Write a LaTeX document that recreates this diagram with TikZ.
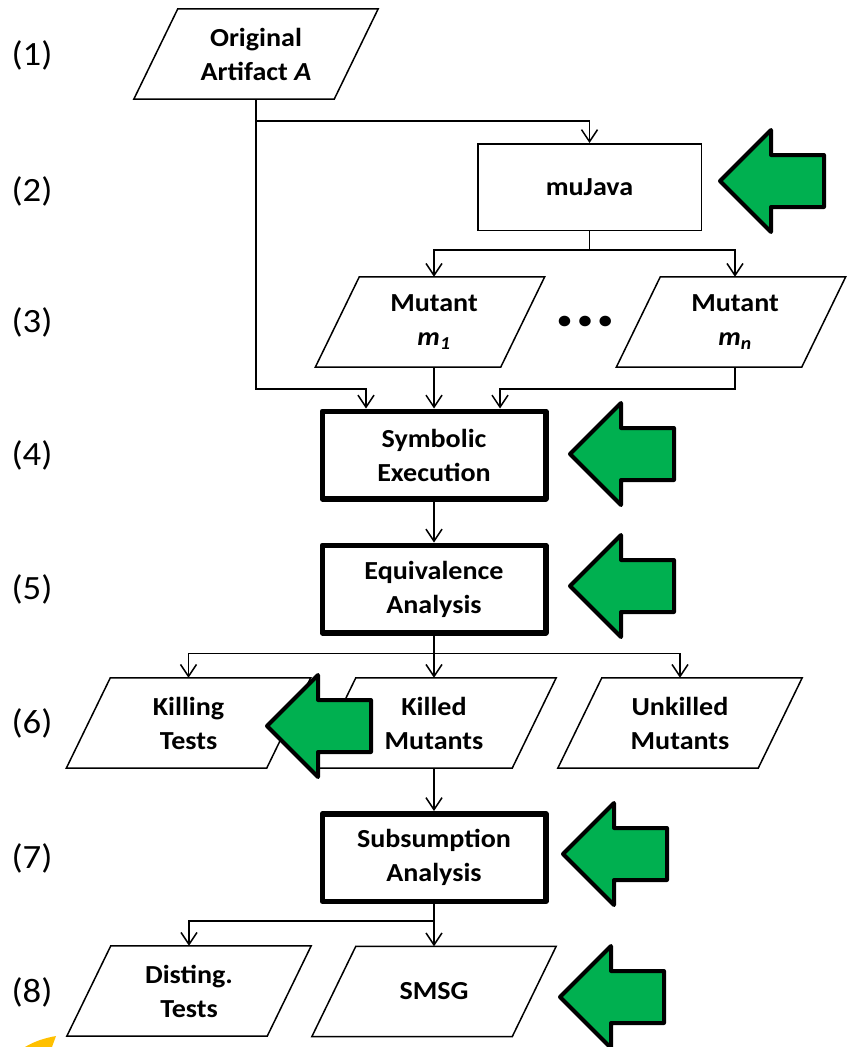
\documentclass[tikz,border=0pt]{standalone}
\usepackage{fontspec}
\setmainfont{Carlito}[FakeStretch=1.08]
\usetikzlibrary{arrows.meta,calc}
\definecolor{arrowgreen}{RGB}{0,176,80}
\definecolor{markyellow}{RGB}{255,192,0}

% left-pointing block arrow: tip at (#1,#2)
\newcommand\greenarrow[2]{%
  \draw[bigarrow] (#1,#2) -- ++(51,-51) -- ++(0,25) -- ++(53,0) -- ++(0,52)
    -- ++(-53,0) -- ++(0,25) -- cycle;}

\begin{document}
\begin{tikzpicture}[x=1pt,y=-1pt,
  txt/.style={font=\fontsize{26}{34}\selectfont\bfseries, align=center, inner sep=0pt},
  para/.style={txt, minimum width=200pt, minimum height=90pt},
  outline/.style={draw, line width=1.5pt, line join=miter, fill=white},
  plainbox/.style={txt, draw, line width=1.5pt, minimum width=223.5pt, minimum height=86.5pt},
  thickbox/.style={txt, draw, line width=5.5pt, line join=round, minimum width=223.5pt, minimum height=87.5pt},
  conn/.style={line width=1.5pt, -{Straight Barb[length=12pt,width=16pt,line width=1.5pt]}},
  rowlabel/.style={font=\fontsize{34}{40}\selectfont, inner sep=0pt},
  bigarrow/.style={fill=arrowgreen, draw=black, line width=4pt, line join=round},
]
\useasboundingbox (0,0) rectangle (850,1047);

% step numbers
\node[rowlabel] (l1) at (32,55.5) {(1)};
\node[rowlabel] (l2) at (32,191) {(2)};
\node[rowlabel] (l3) at (32,322.5) {(3)};
\node[rowlabel] (l4) at (32,455) {(4)};
\node[rowlabel] (l5) at (32,589) {(5)};
\node[rowlabel] (l6) at (32,723.5) {(6)};
\node[rowlabel] (l7) at (32,858.5) {(7)};
\node[rowlabel] (l8) at (32,992.5) {(8)};

% data (parallelogram) nodes: the shape is drawn below around each node
\node[para] (orig) at (256,54) {};
\node[para, minimum width=185pt] (m1) at (430,322) {};
\node[para, minimum width=185pt] (mn) at (731,322) {};
\node[para] (killing) at (188.5,723) {};
\node[para] (killed) at (434,723) {};
\node[para] (unkilled) at (680,723) {};
\node[para] (dist) at (189,991) {};
\node[para] (smsg) at (434,991.5) {};

\foreach \n in {orig,m1,mn,killing,killed,unkilled,dist,smsg}
  \draw[outline] ($(\n.south west)+(-22,0)$) -- ($(\n.north west)+(22,0)$)
    -- ($(\n.north east)+(22,0)$) -- ($(\n.south east)+(-22,0)$) -- cycle;

\node[txt] at (orig) {Original\\Artifact \textit{A}};
\node[txt] at (434,322) {Mutant\\\textit{m}\textsubscript{\textit{1}}};
\node[txt] at (735,322) {Mutant\\\textit{m}\textsubscript{\textit{n}}};
\node[txt] at (killing) {Killing\\Tests};
\node[txt] at (killed) {Killed\\Mutants};
\node[txt] at (unkilled) {Unkilled\\Mutants};
\node[txt] at (dist) {Disting.\\Tests};
\node[txt] at (smsg) {SMSG};

\node[txt, font=\fontsize{25}{25}\selectfont\bfseries] (dots) at (585,322) {•\hspace{7pt}•\hspace{7pt}•};

% process boxes
\node[plainbox] (mujava) at (589.5,187) {muJava};
\node[thickbox] (sym) at (434,455) {Symbolic\\Execution};
\node[thickbox] (equ) at (434,589) {Equivalence\\Analysis};
\node[thickbox] (sub) at (434,857.5) {Subsumption\\Analysis};

% connectors
\coordinate (join) at (0,389);
\draw[conn] (orig.south) -- (orig.south |- join) -- ([xshift=-68]sym.north |- join) -- ([xshift=-68]sym.north);
\draw[conn] (orig.south) -- ++(0,22) -| (mujava.north);
\draw[conn] (mujava.south) -- ++(0,19) -| ([xshift=4]m1.north);
\draw[conn] (mujava.south) -- ++(0,19) -| ([xshift=4]mn.north);
\draw[conn] ([xshift=4]m1.south) -- (sym.north);
\draw[conn] ([xshift=4]mn.south) -- ++(0,22) -| ([xshift=66]sym.north);
\draw[conn] (sym) -- (equ);
\draw[conn] (equ.south) -- ++(0,18) -| (killing.north);
\draw[conn] (equ.south) -- ++(0,18) -| (killed.north);
\draw[conn] (equ.south) -- ++(0,18) -| (unkilled.north);
\draw[conn] (killed) -- (sub);
\draw[conn] (sub.south) -- ++(0,17) -| (dist.north);
\draw[conn] (sub) -- (smsg);

% highlight arrows
\greenarrow{720}{181}
\greenarrow{570}{454}
\greenarrow{570}{586}
\greenarrow{267}{726}
\greenarrow{563}{854}
\greenarrow{560}{997}

% yellow mark at the lower left corner
\fill[markyellow] (25,1047) .. controls (35,1041) and (45,1038) .. (56,1036) -- (52,1047) -- cycle;
\end{tikzpicture}
\end{document}
